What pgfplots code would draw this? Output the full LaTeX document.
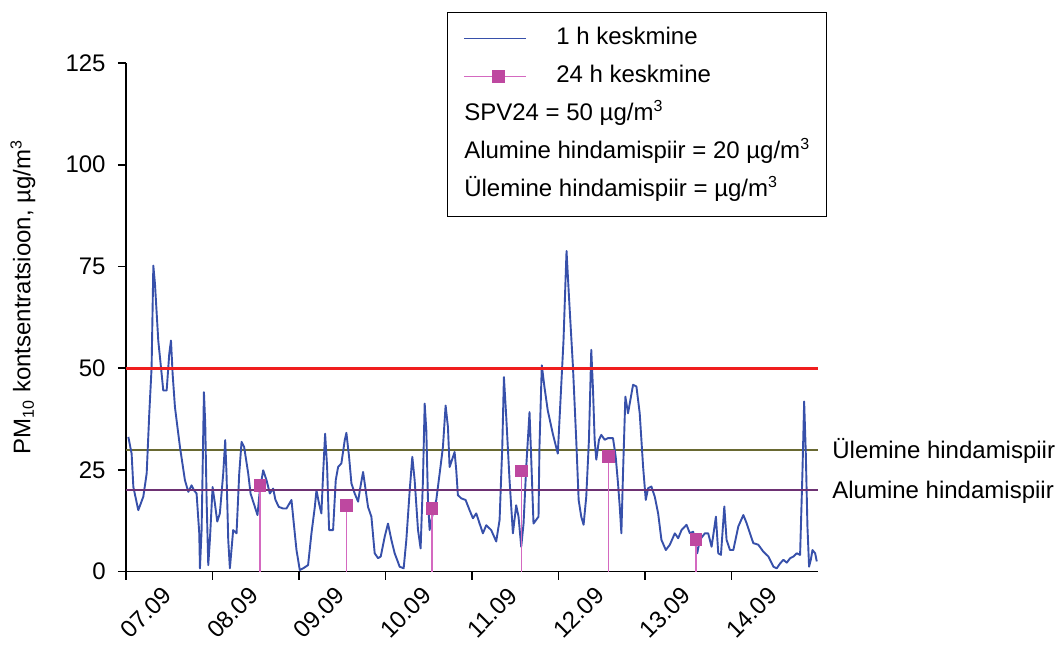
\documentclass[border=0pt,12pt]{standalone}
\usepackage{fontspec}
\setmainfont{Liberation Sans}
\usepackage{pgfplots}
\pgfplotsset{compat=1.18}

\definecolor{hourblue}{RGB}{55,80,170}
\definecolor{pinkmark}{RGB}{190,72,160}
\definecolor{pinkstem}{RGB}{212,105,192}
\definecolor{limitred}{RGB}{240,30,30}
\definecolor{upperolive}{RGB}{105,105,50}
\definecolor{lowerpurple}{RGB}{110,50,115}

\begin{document}
\begin{tikzpicture}
\begin{axis}[
  scale only axis,
  width=346pt, height=254.3pt,
  xmin=0, xmax=8, ymin=0, ymax=125,
  axis x line*=bottom, axis y line*=left,
  axis line style={-, line width=0.8pt},
  tick align=outside, tick pos=left,
  major tick length=4pt,
  tick style={black, line width=0.8pt},
  xtick={0,...,7},
  xticklabels={07.09,08.09,09.09,10.09,11.09,12.09,13.09,14.09},
  ytick={0,25,50,75,100,125},
  /pgf/number format/assume math mode=true,
  xticklabel style={anchor=center, yshift=-16.5pt, xshift=10pt, rotate=45},
  yticklabel style={xshift=-2pt},
  ylabel={PM\textsubscript{10} kontsentratsioon, µg/m\textsuperscript{3}},
  ylabel style={at={(rel axis cs:-0.149,0.54)}, anchor=center, rotate=0},
  clip=false,
  legend cell align=left,
  legend style={at={(0.464,1.1007)}, anchor=north west, draw=black, line width=0.6pt,
    inner xsep=8pt, inner ysep=3.5pt,
    nodes={text height=9pt, text depth=3pt, inner ysep=3.5pt, inner xsep=0pt}},
]

% upper assessment threshold, under the hourly series
\addplot[upperolive, line width=1pt, forget plot] coordinates {(0,30) (8,30)};

% 1 h keskmine
\addplot[hourblue, line width=0.95pt, line join=round,
  legend image code/.code={\draw[hourblue, line width=0.6pt] (0pt,0pt) -- (31pt,0pt);
    \path[draw=none] (0pt,0pt) -- (46pt,0pt);}]
coordinates {
(0.027,33.1) (0.065,29) (0.085,20.8) (0.142,15.1) (0.200,18.4) (0.239,24.1)
(0.269,38.8) (0.296,50.2) (0.316,75.2) (0.335,70.7) (0.373,56.8) (0.412,48.6)
(0.431,44.5) (0.470,44.5) (0.500,53.5) (0.520,56.8) (0.539,48.6) (0.566,40.4)
(0.624,30.6) (0.681,22.5) (0.720,19.6) (0.758,21.2) (0.785,20) (0.816,19.2)
(0.847,9.4) (0.855,0.8) (0.874,10.2) (0.901,44.1) (0.916,36.4) (0.932,17.6)
(0.951,1.6) (0.970,7.8) (1.001,20.8) (1.028,16.7) (1.055,12.3) (1.085,14.3)
(1.124,24.1) (1.147,32.3) (1.162,24.1) (1.182,7.8) (1.201,0.8) (1.239,10.2)
(1.278,9.4) (1.309,24.1) (1.336,31.9) (1.366,30.6) (1.413,24.1) (1.440,19.2)
(1.490,15.9) (1.520,13.9) (1.547,20) (1.586,24.9) (1.624,22.5) (1.663,19.2)
(1.701,20.4) (1.728,17.6) (1.767,15.9) (1.817,15.5) (1.855,15.5) (1.913,17.6)
(1.940,11.8) (1.971,5.3) (2.009,0.4) (2.048,0.8) (2.105,1.6) (2.144,9.4)
(2.183,15.9) (2.202,20) (2.232,16.7) (2.259,14.3) (2.279,24.1) (2.302,33.9)
(2.325,25.7) (2.348,10.2) (2.394,10.2) (2.425,22.5) (2.452,25.7) (2.490,26.6)
(2.529,32.3) (2.548,34.1)
(2.579,28.2) (2.606,21.7) (2.644,19.2) (2.683,17.2) (2.710,20.8) (2.741,24.5)
(2.771,20) (2.798,15.9) (2.837,13.5) (2.875,4.5) (2.914,3.3) (2.945,3.7)
(2.991,8.6) (3.029,11.8) (3.068,7.8) (3.106,4.5) (3.164,1.2) (3.210,0.8)
(3.241,7.8) (3.280,20) (3.310,28.2) (3.337,22.5) (3.376,10.2) (3.406,5.7)
(3.433,22.5) (3.453,41.3) (3.472,34.7) (3.491,17.6) (3.510,10.2) (3.530,12.7)
(3.587,17.6) (3.626,24.1) (3.664,30.6) (3.695,40.8) (3.722,35.5) (3.741,25.7)
(3.768,27.4) (3.799,29.4) (3.818,24.9) (3.837,18.8) (3.876,18) (3.926,17.6)
(3.972,15.1) (4.011,13.1) (4.049,14.3) (4.088,11.8) (4.126,9.4) (4.165,11.4)
(4.222,10.2) (4.280,7.4) (4.319,12.7) (4.350,30.6) (4.369,47.8) (4.396,38)
(4.434,22.5) (4.473,9.4) (4.511,16.3) (4.538,13.5) (4.569,6.1) (4.596,11.8)
(4.627,25.7) (4.665,39.2) (4.684,28.2) (4.711,11.8) (4.769,13.5) (4.780,30.6)
(4.807,50.7) (4.838,45.3) (4.876,39.6) (4.934,33.9) (4.992,29) (5.019,40.4)
(5.058,56.8) (5.081,71.5) (5.093,78.8)
(5.121,67.6) (5.167,50.4) (5.205,32.4) (5.233,17.6) (5.263,13.5) (5.290,11.5)
(5.321,18.4) (5.352,32.4) (5.379,54.5) (5.399,44.7) (5.418,32.4) (5.437,27.5)
(5.468,32.4) (5.495,33.6) (5.534,32.4) (5.572,32.8) (5.630,32.8) (5.661,28.3)
(5.688,21.7) (5.708,16) (5.727,9.4) (5.746,24.2) (5.773,43) (5.804,38.9)
(5.831,42.2) (5.862,45.9) (5.901,45.5) (5.939,38.9) (5.978,25.8) (6.009,17.6)
(6.036,20.5) (6.074,20.9) (6.113,18.4) (6.152,14.3) (6.190,7.8) (6.241,5.3)
(6.287,6.6) (6.345,9.4) (6.384,8.2) (6.422,10.2) (6.480,11.5) (6.519,9.4)
(6.557,9.8) (6.604,4.5) (6.634,7.8) (6.692,9.4) (6.731,9.4) (6.770,6.1)
(6.820,13.5) (6.847,4.5) (6.878,4.1) (6.917,16) (6.943,7.8) (6.982,5.3)
(7.021,5.3) (7.079,11.1) (7.137,13.9) (7.175,11.9) (7.214,9.4) (7.252,7)
(7.310,6.6) (7.368,4.9) (7.427,3.7) (7.485,1.2) (7.523,0.8) (7.562,2)
(7.600,2.9) (7.639,2.2) (7.678,3.3) (7.716,3.7) (7.755,4.5) (7.793,4.1)
(7.820,24.2) (7.840,41.8) (7.859,29.1) (7.878,11.1) (7.897,1.2) (7.917,2.9)
(7.936,5.3) (7.967,4.5) (7.986,2.5)
};
\addlegendentry{1 h keskmine}

% limit lines
\addplot[lowerpurple, line width=1pt, forget plot] coordinates {(0,20) (8,20)};
\addplot[limitred, line width=1.5pt, forget plot] coordinates {(0,50) (8,50)};

% 24 h keskmine
\addplot[ycomb, pinkstem, line width=0.75pt, mark=square*, mark size=2.75pt,
  mark options={fill=pinkmark, draw=pinkmark},
  legend image code/.code={\draw[pinkstem, line width=0.6pt] (0pt,0pt) -- (31pt,0pt);
    \fill[pinkmark] (14pt,-3pt) rectangle (20pt,3pt);
    \path[draw=none] (0pt,0pt) -- (46pt,0pt);}]
coordinates {(1.55,21.2) (2.55,16.3) (3.54,15.5) (4.57,24.7) (5.58,28.3) (6.59,7.9)};
\addlegendentry{24 h keskmine}

\addlegendimage{empty legend}
\addlegendentry{\hspace{-46pt}SPV24 = 50 µg/m\textsuperscript{3}}
\addlegendimage{empty legend}
\addlegendentry{\hspace{-46pt}Alumine hindamispiir = 20 µg/m\textsuperscript{3}}
\addlegendimage{empty legend}
\addlegendentry{\hspace{-46pt}Ülemine hindamispiir = µg/m\textsuperscript{3}}

\node[anchor=base west, inner sep=0pt, xshift=7pt, yshift=-4.3pt] at (axis cs:8,30) {Ülemine hindamispiir};
\node[anchor=base west, inner sep=0pt, xshift=7pt, yshift=-4.3pt] at (axis cs:8,20) {Alumine hindamispiir};
\end{axis}
\path ([shift={(-63pt,-33.2pt)}]current axis.south west) rectangle ++(530.5pt,319pt);
\end{tikzpicture}
\end{document}
